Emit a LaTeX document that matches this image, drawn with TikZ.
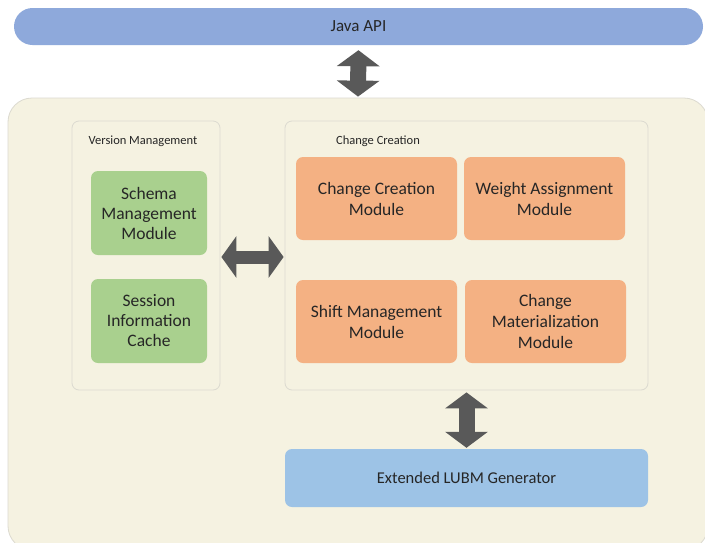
\documentclass[tikz,border=0pt]{standalone}
\usepackage{fontspec}
\setmainfont{Carlito}
\usetikzlibrary{arrows.meta}
\definecolor{apiblue}{HTML}{8EA9DB}
\definecolor{panel}{HTML}{F5F2E1}
\definecolor{panelline}{HTML}{DCDAD0}
\definecolor{green}{HTML}{A9D08E}
\definecolor{orange}{HTML}{F4B183}
\definecolor{genblue}{HTML}{9DC3E6}
\definecolor{arrowgray}{HTML}{595959}
\definecolor{txt}{HTML}{262626}
\tikzset{
  box/.style={rounded corners=7pt, inner sep=0pt, align=center, text=txt,
    font=\fontsize{17.5}{21}\selectfont},
  greenbox/.style={box, fill=green, minimum width=116pt, minimum height=84pt,
    font=\fontsize{17.5}{20}\selectfont},
  orangebox/.style={box, fill=orange, minimum width=161pt, minimum height=83pt},
  group/.style={draw=panelline, line width=0.8pt, fill=panel, rounded corners=7pt,
    inner sep=0pt},
  grouplabel/.style={font=\fontsize{12.5}{14}\selectfont, text=txt, inner sep=0pt},
  fatv/.style={draw=arrowgray, line width=16pt,
    {Triangle[width=42pt,length=16pt]}-{Triangle[width=42pt,length=16pt]}},
  fath/.style={draw=arrowgray, line width=13pt,
    {Triangle[width=41pt,length=15pt]}-{Triangle[width=41pt,length=15pt]}},
}
\begin{document}
\begin{tikzpicture}[x=1pt,y=-1pt]
\useasboundingbox (0,0) rectangle (705,542);
\fill[white] (0,0) rectangle (705,542);

% top interface bar
\node[fill=apiblue, rounded corners=18.5pt, minimum width=689pt, minimum height=37pt,
  inner sep=0pt, font=\fontsize{17}{20}\selectfont, text=txt] (api) at (358.5,26.5) {Java API};

% main framework panel
\node[draw=panelline, line width=0.8pt, fill=panel, rounded corners=24pt,
  minimum width=700pt, minimum height=452pt, inner sep=0pt] (main) at (358,324) {};

% version management group
\node[group, minimum width=148pt, minimum height=269pt] (vm) at (146,255.5) {};
\node[grouplabel] (vmlabel) at (143,141) {Version Management};
\node[greenbox] (schema) at (149,213) {Schema\\Management\\Module};
\node[greenbox] (session) at (149,321) {Session\\Information\\Cache};

% change creation group
\node[group, minimum width=363pt, minimum height=269pt] (cc) at (466.5,255.5) {};
\node[grouplabel] (cclabel) at (378,141) {Change Creation};
\node[orangebox] (ccm) at (376.5,198.5) {Change Creation\\Module};
\node[orangebox] (wam) at (544.5,198.5) {Weight Assignment\\Module};
\node[orangebox] (smm) at (376.5,321.5) {Shift Management\\Module};
\node[orangebox] (cmm) at (545.5,321.5) {Change\\Materialization\\Module};

% generator
\node[box, fill=genblue, minimum width=363pt, minimum height=58pt,
  font=\fontsize{16.5}{19}\selectfont] (gen) at (466.5,478) {Extended LUBM Generator};

% connector end points
\path (vm.east |- 0,257) coordinate (hl);
\path (cc.west |- 0,257) coordinate (hr);
\path (cc.south -| gen.center) coordinate (vt);

% connectors
\draw[fatv, shorten <=5pt, shorten >=1pt] (api.south) -- (main.north);
\draw[fath, shorten <=1pt, shorten >=1pt] (hl) -- (hr);
\draw[fatv, shorten <=2pt, shorten >=1pt] (vt) -- (gen.north);
\end{tikzpicture}
\end{document}
